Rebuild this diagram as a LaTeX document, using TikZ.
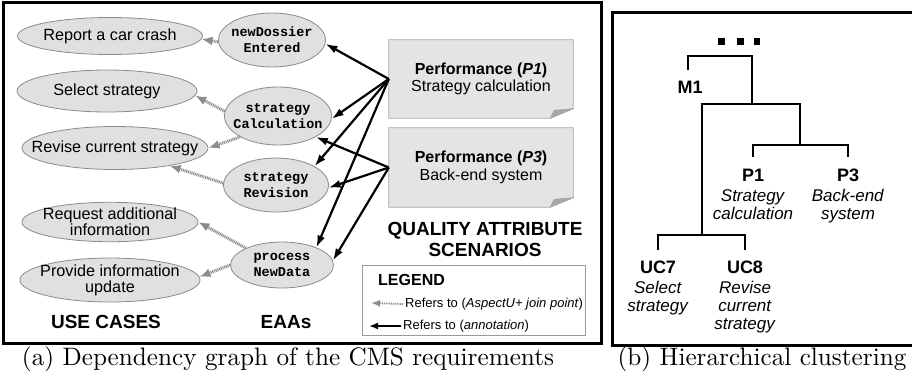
\documentclass[tikz,border=0pt]{standalone}
\usepackage{fontspec}
\newfontfamily\arial{Liberation Sans}
\newfontfamily\cour{Liberation Mono}
\newfontfamily\capfont{lmroman10-regular.otf}
\usetikzlibrary{shapes.geometric,arrows.meta,backgrounds}

\definecolor{ovalfill}{HTML}{E0E0E0}
\definecolor{ovaldraw}{HTML}{8A8A8A}
\definecolor{notefill}{HTML}{E4E4E4}
\definecolor{notedraw}{HTML}{A8A8A8}
\definecolor{foldfill}{HTML}{A6A6A6}
\definecolor{refgray}{HTML}{8C8C8C}
\definecolor{legenddraw}{HTML}{9A9A9A}

\tikzset{
  usecase/.style={ellipse, draw=ovaldraw, fill=ovalfill, line width=0.8pt,
    inner xsep=-20pt, inner ysep=0pt, align=center,
    font=\arial\fontsize{16.2}{16}\selectfont},
  eaa/.style={ellipse, draw=ovaldraw, fill=ovalfill, line width=0.8pt,
    inner xsep=-20pt, inner ysep=0pt, align=center,
    font=\cour\bfseries\fontsize{13.5}{16}\selectfont},
  scenario/.style={minimum width=184pt, inner sep=0pt, align=center,
    font=\arial\fontsize{16}{17.5}\selectfont},
  annot/.style={-{Latex[length=12pt,width=8pt]}, line width=2.2pt, black},
  joinpt/.style={-{Latex[length=11pt,width=9pt]}, line width=3pt, refgray,
    dash pattern=on 1pt off 0.8pt},
  annotsmall/.style={-{Latex[length=9pt,width=7pt]}, line width=1.8pt, black},
  joinptsmall/.style={-{Latex[length=9pt,width=7pt]}, line width=1.8pt, refgray,
    dash pattern=on 1pt off 0.8pt},
  heading/.style={font=\arial\bfseries\fontsize{19}{21}\selectfont, align=center, inner sep=0pt},
  legendtext/.style={font=\arial\fontsize{13}{13}\selectfont, inner sep=0pt, anchor=west},
  tree/.style={line width=2.6pt, line cap=butt, line join=miter},
  leaf/.style={font=\arial\fontsize{17}{18}\selectfont, align=center, inner sep=0pt, anchor=north},
  caption/.style={font=\capfont\fontsize{25.2}{27}\selectfont, inner sep=0pt, anchor=base},
}

\begin{document}
\begin{tikzpicture}[x=1pt, y=-1pt]
\useasboundingbox (0,0) rectangle (912,375);

% ---------- panel (a): dependency graph ----------
\draw[line width=3pt] (3,2) rectangle (601,343);

% use cases
\node[usecase, minimum width=185pt, minimum height=37pt] (rep)  at (110,36)  {Report a car crash};
\node[usecase, minimum width=180pt, minimum height=42pt] (sel)  at (107,91)  {Select strategy};
\node[usecase, minimum width=186pt, minimum height=43pt] (rev)  at (115,148) {Revise current strategy};
\node[usecase, minimum width=176pt, minimum height=39pt] (req)  at (110,222) {Request additional\\information};
\node[usecase, minimum width=180pt, minimum height=37pt] (prov) at (110,280) {Provide information\\update};

% early aspects
\node[eaa, minimum width=107pt, minimum height=54pt] (ndE) at (272,40)  {newDossier\\Entered};
\node[eaa, minimum width=107pt, minimum height=58pt] (sC)  at (278,116) {strategy\\Calculation};
\node[eaa, minimum width=105pt, minimum height=54pt] (sR)  at (276,185) {strategy\\Revision};
\node[eaa, minimum width=103pt, minimum height=46pt] (pND) at (282,265) {process\\NewData};

% quality attribute scenarios (notes with a folded corner)
\node[scenario, minimum height=78pt] (p1) at (481,79)
  {\textbf{Performance (\textit{P1})}\\Strategy calculation};
\node[scenario, minimum height=79pt] (p3) at (481,167.5)
  {\textbf{Performance (\textit{P3})}\\Back-end system};
\begin{scope}[on background layer]
  \foreach \n in {p1,p3}{
    \filldraw[fill=notefill, draw=notedraw, line width=0.8pt]
      (\n.north west) -- (\n.north east) -- ([yshift=9.5pt]\n.south east)
      -- ([xshift=-23pt]\n.south east) -- (\n.south west) -- cycle;
    \filldraw[fill=foldfill, draw=notedraw, line width=0.6pt]
      ([yshift=9.5pt]\n.south east) -- ([xshift=-19pt,yshift=8pt]\n.south east)
      -- ([xshift=-23pt]\n.south east) -- cycle;
  }
\end{scope}

% join-point references (EAA -> use case)
\draw[joinpt] (ndE.182) -- (rep.-2);
\draw[joinpt] (sC.175)  -- (sel.-3);
\draw[joinpt] (sC.209)  -- (rev.0);
\draw[joinpt] (sR.178)  -- (rev.-18);
\draw[joinpt] (pND.155) -- (req.0);
\draw[joinpt] (pND.180) -- (prov.2);

% annotation references (scenario -> EAA)
\draw[annot] (p1.west) -- (ndE.-4);
\draw[annot] (p1.west) -- (sC.-3);
\draw[annot] (p1.west) -- (sR.26);
\draw[annot] (p1.west) -- (pND.27);
\draw[annot] (p3.west) -- (sC.-29);
\draw[annot] (p3.west) -- (sR.-3);
\draw[annot] (p3.west) -- (pND.5);

% column headings
\node[heading, anchor=base] (hUC)  at (106,328) {USE CASES};
\node[heading, anchor=base] (hEAA) at (286,328) {EAAs};
\node[heading, anchor=north] (hQAS) at (485,222) {QUALITY ATTRIBUTE\\SCENARIOS};

% legend
\node[draw=legenddraw, line width=1pt, fill=white, minimum width=223pt,
      minimum height=70pt, inner sep=0pt] (legend) at (473.5,300) {};
\node[font=\arial\bfseries\fontsize{16}{16}\selectfont, inner sep=0pt, anchor=base west]
  (legTitle) at (378,285) {LEGEND};
\node[legendtext] (lgJ) at (405,304) {Refers to (\textit{AspectU+ join point})};
\node[legendtext] (lgA) at (403,326) {Refers to (\textit{annotation})};
\coordinate (lgJend) at (371,303);
\coordinate (lgAend) at (369,326);
\draw[joinptsmall] ([xshift=-2pt]lgJ.west) -- (lgJend);
\draw[annotsmall] ([xshift=-2pt]lgA.west) -- (lgAend);

% ---------- panel (b): hierarchical clustering ----------
\draw[line width=3pt] (914,12) -- (612,12) -- (612,345) -- (914,345);

% elided upper levels
\foreach \dx in {718,737,753.5}
  \fill (\dx,38) rectangle ++(6.5,6.5);

% labels
\node[font=\arial\bfseries\fontsize{18}{18}\selectfont, inner sep=0pt, anchor=base]
  (m1) at (690,93) {M1};
\node[leaf] (lP1) at (753,169) {{\bfseries\fontsize{18}{18}\selectfont P1}\\[2pt]\textit{Strategy}\\\textit{calculation}};
\node[leaf] (lP3) at (848,169) {{\bfseries\fontsize{18}{18}\selectfont P3}\\[2pt]\textit{Back-end}\\\textit{system}};
\node[leaf] (lUC7) at (658,261) {{\bfseries\fontsize{18}{18}\selectfont UC7}\\[2pt]\textit{Select}\\\textit{strategy}};
\node[leaf] (lUC8) at (745,261) {{\bfseries\fontsize{18}{18}\selectfont UC8}\\[2pt]\textit{Revise}\\\textit{current}\\\textit{strategy}};

% bracket joints
\coordinate (legM1)   at (688,70);
\coordinate (apex)    at (752,56);
\coordinate (joinTop) at (752,104);
\coordinate (joinP)   at (800,145);
\coordinate (legP1)   at (753,157);
\coordinate (legP3)   at (848,157);
\coordinate (joinUC)  at (702,235);
\coordinate (legUC7)  at (658,250);
\coordinate (legUC8)  at (745,250);

\draw[tree] (legM1) |- (apex) -- (joinTop);
\draw[tree] (joinUC) |- (joinTop) -| (joinP);
\draw[tree] (legP1) |- (joinP) -| (legP3);
\draw[tree] (legUC7) |- (joinUC) -| (legUC8);

% ---------- captions ----------
\node[caption] (capA) at (288,365) {(a) Dependency graph of the CMS requirements};
\node[caption] (capB) at (762,365) {(b) Hierarchical clustering};
\end{tikzpicture}
\end{document}
